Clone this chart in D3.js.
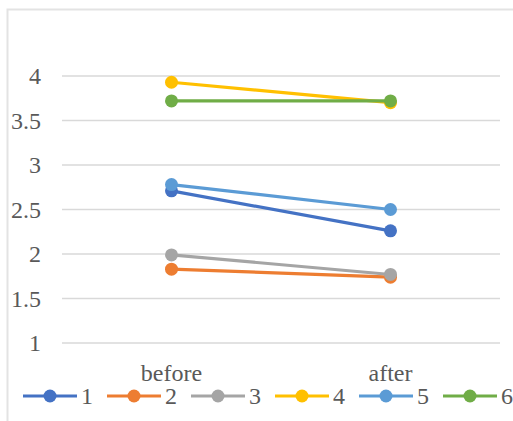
<!DOCTYPE html>
<html>
<head>
<meta charset="utf-8">
<script src="https://cdn.jsdelivr.net/npm/d3@7"></script>
<style>
  html, body { margin: 0; padding: 0; background: #fff; }
  svg { display: block; }
</style>
</head>
<body>
<script>
// Paired values per subject: score before and after
const categories = ["before", "after"];
const seriesNames = ["1", "2", "3", "4", "5", "6"];
const beforeValues = [2.71, 1.83, 1.99, 3.93, 2.78, 3.72];
const afterValues  = [2.26, 1.74, 1.77, 3.70, 2.50, 3.72];
const yTicks = [1, 1.5, 2, 2.5, 3, 3.5, 4];
const colors = ["#4472C4", "#ED7D31", "#A5A5A5", "#FFC000", "#5B9BD5", "#70AD47"];

const FONT = "'Liberation Serif', 'Times New Roman', serif";
const FONT_SIZE = "24px";
const TEXT_COLOR = "#595959";

const W = 513, H = 421;
const svg = d3.select("body").append("svg").attr("width", W).attr("height", H);

// chart frame
svg.append("rect")
  .attr("x", 7.5).attr("y", 9.5).attr("width", W + 10).attr("height", H + 10)
  .attr("fill", "none").attr("stroke", "#e3e3e3").attr("stroke-width", 2);

const x = d3.scaleBand().domain(categories).range([62, 500]);
const y = d3.scaleLinear().domain([1, 4]).range([343, 76]);

// horizontal gridlines
svg.append("g").selectAll("line").data(yTicks).join("line")
  .attr("x1", 62).attr("x2", 500)
  .attr("y1", d => y(d)).attr("y2", d => y(d))
  .attr("stroke", "#d9d9d9").attr("stroke-width", 1.5);

function styleText(sel) {
  sel.style("font-family", FONT).style("font-size", FONT_SIZE).style("fill", TEXT_COLOR);
}

// value axis labels
const yAxis = svg.append("g").attr("transform", "translate(41,0)")
  .call(d3.axisLeft(y).tickValues(yTicks).tickSize(0).tickPadding(0).tickFormat(d3.format("")));
yAxis.select(".domain").remove();
yAxis.selectAll("text").call(styleText);

// category axis labels
const xAxis = svg.append("g").attr("transform", "translate(0,359)")
  .call(d3.axisBottom(x).tickSize(0).tickPadding(0));
xAxis.select(".domain").remove();
xAxis.selectAll("text").call(styleText).attr("dy", "0.93em");

// one line + two markers per series
const series = seriesNames.map((name, i) => ({
  name, color: colors[i],
  points: [
    { cat: categories[0], v: beforeValues[i] },
    { cat: categories[1], v: afterValues[i] }
  ]
}));

const line = d3.line()
  .x(d => x(d.cat) + x.bandwidth() / 2)
  .y(d => y(d.v));

const sg = svg.append("g").selectAll("g").data(series).join("g");
sg.append("path")
  .attr("d", d => line(d.points))
  .attr("fill", "none").attr("stroke", d => d.color).attr("stroke-width", 3.2)
  .attr("stroke-linecap", "round");
sg.selectAll("circle").data(d => d.points.map(p => ({ ...p, color: d.color }))).join("circle")
  .attr("cx", d => x(d.cat) + x.bandwidth() / 2)
  .attr("cy", d => y(d.v))
  .attr("r", 6.5)
  .attr("fill", d => d.color);

// legend
const legendY = 396, legendX0 = 23, legendStep = 84;
const lg = svg.append("g").selectAll("g").data(series).join("g")
  .attr("transform", (d, i) => `translate(${legendX0 + i * legendStep},${legendY})`);
lg.append("line").attr("x1", 0).attr("x2", 54).attr("y1", 0).attr("y2", 0)
  .attr("stroke", d => d.color).attr("stroke-width", 3.2);
lg.append("circle").attr("cx", 27).attr("cy", 0).attr("r", 6.5).attr("fill", d => d.color);
lg.append("text").attr("x", 58).attr("y", 8).call(styleText).text(d => d.name);
</script>
</body>
</html>
